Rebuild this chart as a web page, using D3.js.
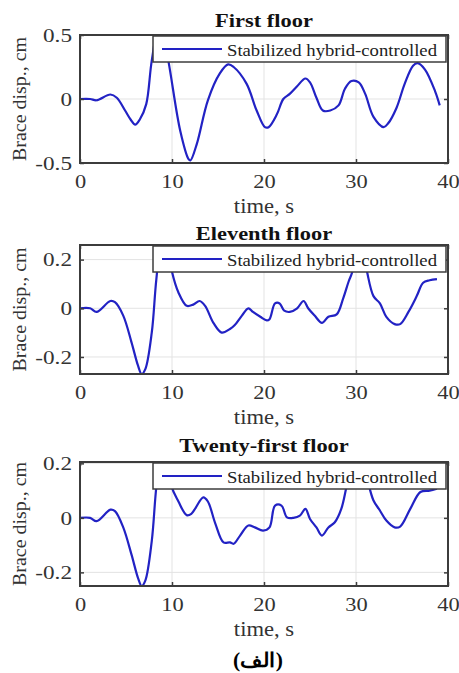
<!DOCTYPE html>
<html>
<head>
<meta charset="utf-8">
<script src="https://cdn.jsdelivr.net/npm/d3@7"></script>
<style>
  html, body { margin: 0; padding: 0; background: #fff; }
  svg { display: block; }
  text { font-family: "Liberation Serif", "Times New Roman", serif; }
</style>
</head>
<body>
<svg id="chart" width="459" height="673"></svg>
<script>
// ---------- DATA ----------
const panelTitles = ["First floor", "Eleventh floor", "Twenty-first floor"];
const seriesName = "Stabilized hybrid-controlled";
const xLabel = "time, s";
const yLabel = "Brace disp., cm";
const caption = "(الف)";

const xTicks = [0, 10, 20, 30, 40];
const xLimits = [0, 40];

const yLimits1 = [-0.5, 0.5];
const yTicks1 = [-0.5, 0, 0.5];
const yLimits2 = [-0.27, 0.26];
const yTicks2 = [-0.2, 0, 0.2];
const yLimits3 = [-0.25, 0.205];
const yTicks3 = [-0.2, 0, 0.2];

// First floor
const time1 = [0,1.1,1.8,3.3,4,4.9,5.5,6.0,6.5,7.2,7.8,8.7,9.6,10.9,11.8,12,12.7,13.9,15.2,16.1,16.7,18.1,19.2,20.1,20.5,21.4,22.1,22.8,23.6,24.5,25,25.7,26.4,27.2,28.1,28.8,29.5,30.3,31,31.9,33,33.5,34.4,35.3,36.2,36.7,37.5,38.6,39.1];
const disp1 = [0,0,-0.01,0.035,0.01,-0.09,-0.16,-0.2,-0.16,-0.04,0.3,0.62,0.3,-0.25,-0.47,-0.48,-0.35,-0.01,0.2,0.27,0.25,0.12,-0.09,-0.22,-0.22,-0.12,0,0.04,0.1,0.16,0.13,0.01,-0.09,-0.09,-0.05,0.08,0.14,0.13,0.04,-0.14,-0.22,-0.19,-0.07,0.12,0.26,0.28,0.23,0.06,-0.05];

// Eleventh floor
const time2 = [0,1.1,1.8,3.3,3.8,4.7,5.6,6.3,6.7,7.1,7.8,8.3,9.1,10,10.7,11.6,12.3,13,13.6,14.5,15.4,16.3,16.8,17.6,18.3,18.8,19.6,20.3,20.6,21.2,21.7,22.2,22.8,23.6,24.3,24.8,25.5,26.3,27,27.9,28.6,29.2,29.6,30.4,31.2,31.9,32.6,33.3,34.2,34.8,35.7,36.6,37.3,38,38.8];
const disp2 = [0,0,-0.015,0.03,0.025,-0.03,-0.14,-0.235,-0.27,-0.25,-0.1,0.12,0.36,0.15,0.065,0.01,0.015,0.03,0.01,-0.06,-0.1,-0.085,-0.07,-0.03,0,-0.015,-0.035,-0.05,-0.045,0.02,0.02,-0.01,-0.015,0,0.03,0,-0.03,-0.06,-0.035,-0.025,0.04,0.11,0.15,0.32,0.15,0.05,0.02,-0.035,-0.065,-0.065,-0.015,0.05,0.105,0.115,0.12];

// Twenty-first floor
const time3 = [0,1.1,1.8,3.3,3.8,4.7,5.6,6.3,6.7,7.1,7.8,8.3,9.1,9.9,10.7,11.6,12.1,13.4,13.9,14.7,15.6,16.3,16.7,17.4,18.3,19,19.9,20.6,21.2,21.9,22.5,23.2,23.9,24.5,25,25.7,26.3,27,27.7,28.4,29,30.3,31.4,31.9,32.6,33.3,34.2,34.8,35.9,37,38,38.8];
const disp3 = [0,0,-0.012,0.03,0.025,-0.035,-0.135,-0.22,-0.25,-0.23,-0.085,0.115,0.32,0.12,0.06,0.01,0.015,0.075,0.06,-0.02,-0.09,-0.09,-0.095,-0.065,-0.028,-0.035,-0.047,-0.035,0.045,0.045,0.002,0,0.008,0.033,-0.004,-0.035,-0.065,-0.035,-0.016,0.033,0.12,0.32,0.12,0.064,0.027,-0.01,-0.035,-0.032,0.033,0.095,0.1,0.107];

// ---------- LAYOUT ----------
const svg = d3.select("#chart");
const plotLeft = 80, plotRight = 448;
const panels = [
  { title: panelTitles[0], t: time1, v: disp1, yLim: yLimits1, yTicks: yTicks1, top: 35, bottom: 163, titleY: 27 },
  { title: panelTitles[1], t: time2, v: disp2, yLim: yLimits2, yTicks: yTicks2, top: 245, bottom: 374, titleY: 240 },
  { title: panelTitles[2], t: time3, v: disp3, yLim: yLimits3, yTicks: yTicks3, top: 462, bottom: 586, titleY: 452 }
];

function stretch(sel, k) {
  sel.attr("textLength", function () { return this.getComputedTextLength() * k; })
     .attr("lengthAdjust", "spacingAndGlyphs");
}

const lineColor = "#2222c4";
const boxColor = "#3c3c3c";
const gridColor = "#e3e3e3";
const tickTextColor = "#333";

panels.forEach((p, i) => {
  const x = d3.scaleLinear().domain(xLimits).range([plotLeft, plotRight]);
  const y = d3.scaleLinear().domain(p.yLim).range([p.bottom, p.top]);
  const g = svg.append("g");
  const w = plotRight - plotLeft, h = p.bottom - p.top;
  const cx = (plotLeft + plotRight) / 2;

  g.append("rect").attr("x", plotLeft).attr("y", p.top).attr("width", w).attr("height", h).attr("fill", "#fff");

  // grid
  g.selectAll(".vg").data(xTicks.filter(d => d > xLimits[0] && d < xLimits[1])).enter()
    .append("line").attr("x1", d => x(d)).attr("x2", d => x(d)).attr("y1", p.top).attr("y2", p.bottom)
    .attr("stroke", gridColor).attr("stroke-width", 1);
  g.selectAll(".hg").data(p.yTicks.filter(d => d > p.yLim[0] + 1e-9 && d < p.yLim[1] - 1e-9)).enter()
    .append("line").attr("y1", d => y(d)).attr("y2", d => y(d)).attr("x1", plotLeft).attr("x2", plotRight)
    .attr("stroke", gridColor).attr("stroke-width", 1);

  const clipId = "clip" + i;
  svg.append("clipPath").attr("id", clipId).append("rect")
    .attr("x", plotLeft).attr("y", p.top).attr("width", w).attr("height", h);

  const data = p.t.map((t, k) => [t, p.v[k]]);
  const line = d3.line().x(d => x(d[0])).y(d => y(d[1])).curve(d3.curveCatmullRom.alpha(0.5));
  g.append("path").datum(data).attr("d", line).attr("fill", "none")
    .attr("stroke", lineColor).attr("stroke-width", 2.2).attr("stroke-linejoin", "round")
    .attr("clip-path", `url(#${clipId})`);

  const tickLen = 4;
  const xb = d3.axisBottom(x).tickValues(xTicks).tickSizeInner(-tickLen).tickSizeOuter(0).tickFormat(d3.format("d"));
  const xt = d3.axisTop(x).tickValues(xTicks).tickSizeInner(-tickLen).tickSizeOuter(0).tickFormat("");
  const yl = d3.axisLeft(y).tickValues(p.yTicks).tickSizeInner(-tickLen).tickSizeOuter(0).tickFormat(d => d === 0 ? "0" : String(d));
  const yr = d3.axisRight(y).tickValues(p.yTicks).tickSizeInner(-tickLen).tickSizeOuter(0).tickFormat("");

  const gxb = g.append("g").attr("transform", `translate(0,${p.bottom})`).call(xb);
  const gxt = g.append("g").attr("transform", `translate(0,${p.top})`).call(xt);
  const gyl = g.append("g").attr("transform", `translate(${plotLeft},0)`).call(yl);
  const gyr = g.append("g").attr("transform", `translate(${plotRight},0)`).call(yr);
  [gxb, gxt, gyl, gyr].forEach(a => {
    a.select(".domain").remove();
    a.selectAll(".tick line").attr("stroke", boxColor).attr("stroke-width", 1.5);
  });
  gxb.selectAll(".tick text").attr("y", 0).attr("dy", 0).attr("transform", "translate(0,25)")
    .attr("font-family", "Liberation Serif").attr("font-size", 19).attr("fill", tickTextColor)
    .call(stretch, 1.18);
  gyl.selectAll(".tick text").attr("x", -8).attr("dy", "0.33em")
    .attr("font-family", "Liberation Serif").attr("font-size", 19).attr("fill", tickTextColor)
    .call(stretch, 1.22);

  g.append("rect").attr("x", plotLeft).attr("y", p.top).attr("width", w).attr("height", h)
    .attr("fill", "none").attr("stroke", boxColor).attr("stroke-width", 2);

  g.append("text").attr("x", cx).attr("y", p.titleY).attr("text-anchor", "middle")
    .attr("font-size", 19).attr("font-weight", "bold").attr("fill", "#111").text(p.title)
    .call(stretch, 1.18);

  g.append("text").attr("x", cx).attr("y", p.bottom + 50).attr("text-anchor", "middle")
    .attr("font-size", 20).attr("fill", tickTextColor).text(xLabel)
    .call(stretch, 1.13);

  const cy = (p.top + p.bottom) / 2;
  g.append("text").attr("transform", `translate(26,${cy}) rotate(-90)`).attr("text-anchor", "middle")
    .attr("font-size", 19).attr("fill", tickTextColor).text(yLabel)
    .attr("textLength", 124).attr("lengthAdjust", "spacingAndGlyphs");

  const lx = 153, ly = p.top + 1, lw = 293, lh = 26;
  g.append("rect").attr("x", lx).attr("y", ly).attr("width", lw).attr("height", lh)
    .attr("fill", "#fff").attr("stroke", boxColor).attr("stroke-width", 1.5);
  g.append("line").attr("x1", lx + 9).attr("x2", lx + 69).attr("y1", ly + 13).attr("y2", ly + 13)
    .attr("stroke", lineColor).attr("stroke-width", 2);
  g.append("text").attr("x", lx + 74).attr("y", ly + 19.5).attr("font-size", 17).attr("fill", "#222")
    .text(seriesName).attr("textLength", 210).attr("lengthAdjust", "spacingAndGlyphs");
});

svg.append("text").attr("x", 258).attr("y", 667).attr("text-anchor", "middle")
  .attr("font-family", "DejaVu Sans").attr("font-weight", "bold").attr("font-size", 20)
  .attr("fill", "#000").text(caption)
  .attr("textLength", 50).attr("lengthAdjust", "spacingAndGlyphs");
</script>
</body>
</html>
